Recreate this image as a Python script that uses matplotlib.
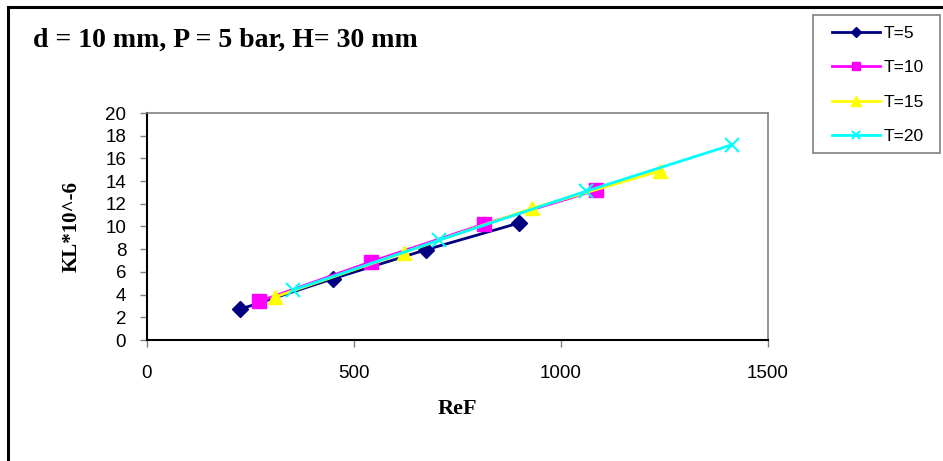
import matplotlib
matplotlib.use("Agg")
import matplotlib.pyplot as plt
from matplotlib.patches import Rectangle
from matplotlib.lines import Line2D

# Measured series: Reynolds number vs. mass transfer coefficient
ref_t5 = [224, 449, 674, 898]
kl_t5 = [2.7, 5.4, 7.95, 10.3]
ref_t10 = [271, 542, 813, 1085]
kl_t10 = [3.4, 6.9, 10.2, 13.2]
ref_t15 = [310, 620, 930, 1240]
kl_t15 = [3.8, 7.7, 11.6, 14.9]
ref_t20 = [353, 706, 1060, 1413]
kl_t20 = [4.4, 8.8, 13.1, 17.2]

series_labels = ["T=5", "T=10", "T=15", "T=20"]
x_ticks = [0, 500, 1000, 1500]
y_ticks = list(range(0, 21, 2))

W, H = 943, 461
fig = plt.figure(figsize=(W / 100, H / 100), dpi=100)

# outer chart frame (runs past right and bottom edges)
fig.patches.append(Rectangle((8 / W, -0.1), 1.2, (H - 7) / H + 0.1, transform=fig.transFigure,
                             fill=False, edgecolor="black", linewidth=2.2))

left, right, top, bottom = 147, 768, 113, 340
ax = fig.add_axes([left / W, 1 - bottom / H, (right - left) / W, (bottom - top) / H])

styles = [
    dict(color="#000080", marker="D", markersize=8.5),
    dict(color="#FF00FF", marker="s", markersize=9.5),
    dict(color="#FFFF00", marker="^", markersize=10.5),
    dict(color="#00FFFF", marker="x", markersize=10, markeredgewidth=1.5),
]
data = [(ref_t5, kl_t5), (ref_t10, kl_t10), (ref_t15, kl_t15), (ref_t20, kl_t20)]
for (xs, ys), st, lab in zip(data, styles, series_labels):
    ax.plot(xs, ys, linewidth=2, label=lab, clip_on=False, **st)

ax.set_xlim(0, 1500)
ax.set_ylim(0, 20)
ax.set_xticks(x_ticks)
ax.set_yticks(y_ticks)

tick_font = dict(family="Liberation Sans", size=13.5)
ax.set_xticklabels([str(v) for v in x_ticks], fontdict=tick_font)
ax.set_yticklabels([str(v) for v in y_ticks], fontdict=tick_font)
ax.tick_params(axis="both", direction="out", color="#808080", length=5, width=1)
ax.tick_params(axis="x", pad=13)
ax.tick_params(axis="y", pad=10)

for s in ("top", "right"):
    ax.spines[s].set_color("#808080")
    ax.spines[s].set_linewidth(1.2)
for s in ("left", "bottom"):
    ax.spines[s].set_color("black")
    ax.spines[s].set_linewidth(1.5)

ax.set_xlabel("ReF", family="Liberation Serif", weight="bold", size=16, labelpad=12)
ax.set_ylabel("KL*10^-6", family="Liberation Serif", weight="bold", size=15, labelpad=17)

fig.text(33 / W, 1 - 40 / H, "d = 10 mm, P = 5 bar, H= 30 mm",
         family="Liberation Serif", weight="bold", size=20, va="center", ha="left")

# legend box drawn as its own rectangle, entries placed inside it
fig.patches.append(Rectangle((813 / W, 1 - 153 / H), 127 / W, 138 / H, transform=fig.transFigure,
                             fill=False, edgecolor="#808080", linewidth=1.2))
handles = [Line2D([], [], linewidth=2, **{**st, "markersize": st["markersize"] * 0.62})
           for st in styles]
fig.legend(handles, series_labels, loc="upper left",
           bbox_to_anchor=(832 / W, 1 - 26 / H), bbox_transform=fig.transFigure,
           frameon=False, prop=dict(family="Liberation Sans", size=12.5),
           handlelength=2.75, handletextpad=0.25, labelspacing=1.1,
           borderpad=0, borderaxespad=0)

fig.savefig("out.png", dpi=100, facecolor="white")
